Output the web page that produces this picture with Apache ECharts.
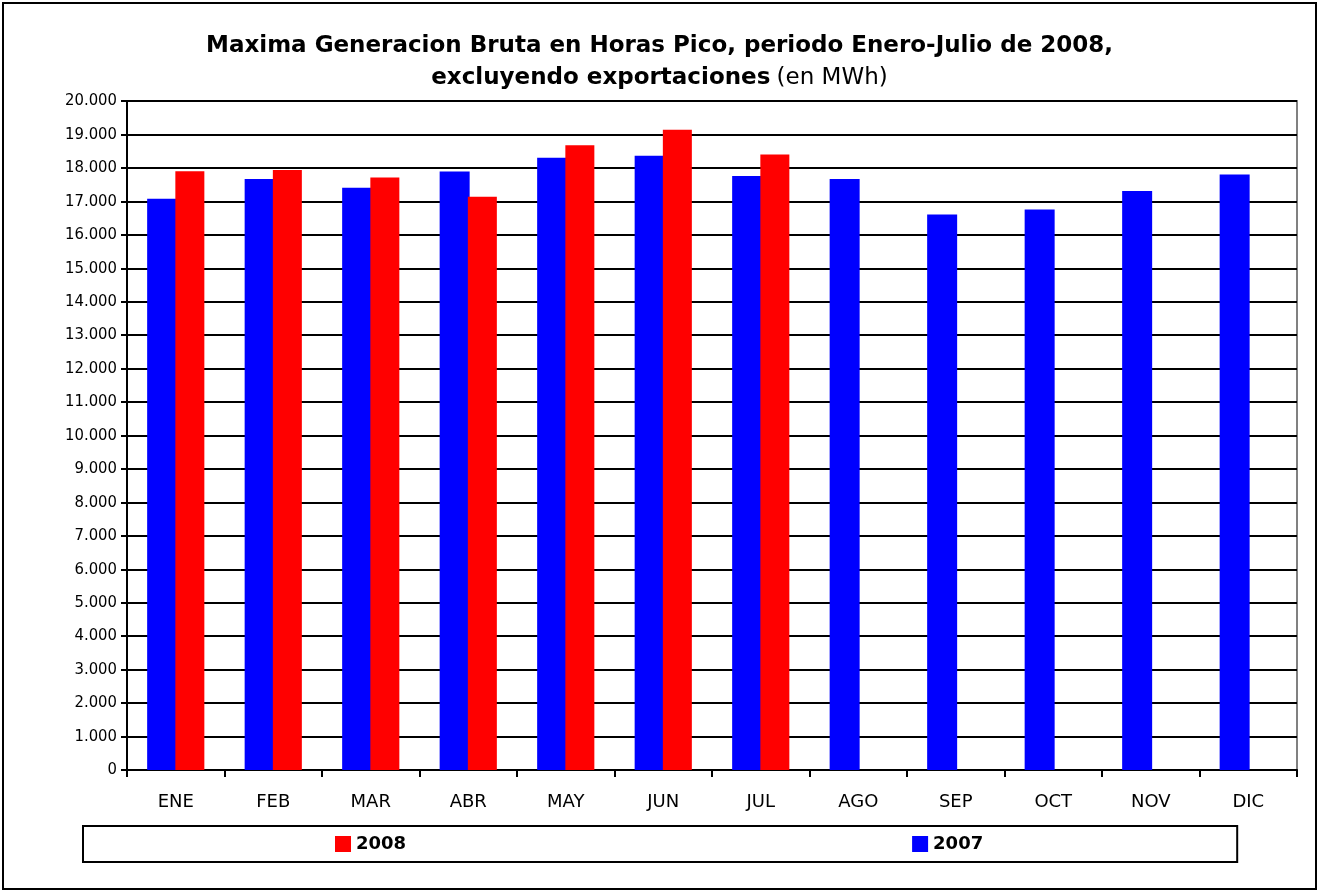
<!DOCTYPE html>
<html>
<head>
<meta charset="utf-8">
<script src="https://cdn.jsdelivr.net/npm/echarts@6/dist/echarts.min.js"></script>
<style>
  html, body { margin: 0; padding: 0; background: #fff; }
  #chart { width: 1319px; height: 892px; }
</style>
</head>
<body>
<div id="chart"></div>
<script>
// datos (MWh)
var meses = ['ENE', 'FEB', 'MAR', 'ABR', 'MAY', 'JUN', 'JUL', 'AGO', 'SEP', 'OCT', 'NOV', 'DIC'];
var gen2007 = [17080, 17670, 17410, 17890, 18300, 18360, 17760, 17670, 16610, 16760, 17310, 17800];
var gen2008 = [17900, 17940, 17710, 17140, 18680, 19140, 18400, null, null, null, null, null];

var fuente = '"DejaVu Sans", sans-serif';
var fuenteCond = '"DejaVu Sans Condensed", "DejaVu Sans", sans-serif';

var myChart = echarts.init(document.getElementById('chart'));
myChart.setOption({
  animation: false,
  textStyle: { fontFamily: fuente, color: '#000' },
  title: {
    text: '{b|Maxima Generacion Bruta en Horas Pico, periodo Enero-Julio de 2008,}\n{b|excluyendo exportaciones} {n|(en MWh)}',
    left: 'center',
    top: 25,
    textStyle: {
      rich: {
        b: { fontFamily: fuente, fontSize: 23, fontWeight: 'bold', color: '#000', lineHeight: 32 },
        n: { fontFamily: fuente, fontSize: 23, fontWeight: 'normal', color: '#000', lineHeight: 32 }
      }
    }
  },
  legend: {
    data: ['2008', '2007'],
    left: 83,
    top: 826,
    orient: 'horizontal',
    itemWidth: 16,
    itemHeight: 16,
    itemGap: 506,
    padding: [9, 254, 9, 252],
    borderColor: '#000',
    borderWidth: 2,
    borderRadius: 0,
    icon: 'rect',
    textStyle: { fontFamily: fuente, fontSize: 18, fontWeight: 'bold', color: '#000' }
  },
  grid: {
    left: 127,
    right: 22,
    top: 101,
    bottom: 122,
    show: true,
    borderColor: '#808080',
    borderWidth: 2,
    backgroundColor: '#fff'
  },
  xAxis: {
    type: 'category',
    data: meses,
    axisLine: { lineStyle: { color: '#000', width: 2 } },
    axisTick: { show: true, length: 7, lineStyle: { color: '#000', width: 2 } },
    axisLabel: { fontSize: 18, color: '#000', margin: 23, fontFamily: fuente }
  },
  yAxis: {
    type: 'value',
    min: 0,
    max: 20000,
    interval: 1000,
    axisLine: { show: true, lineStyle: { color: '#000', width: 2 } },
    axisTick: { show: true, length: 6, lineStyle: { color: '#000', width: 2 } },
    splitLine: { lineStyle: { color: '#000', width: 2 } },
    axisLabel: {
      fontSize: 16.5,
      color: '#000',
      margin: 10,
      fontFamily: fuenteCond,
      formatter: function (v) {
        return String(v).replace(/\B(?=(\d{3})+(?!\d))/g, '.');
      }
    }
  },
  series: [
    {
      name: '2007',
      type: 'bar',
      data: gen2007,
      barWidth: 30,
      barGap: '-6%',
      itemStyle: { color: '#0000FF' }
    },
    {
      name: '2008',
      type: 'bar',
      data: gen2008,
      barWidth: 29,
      itemStyle: { color: '#FF0000' }
    }
  ],
  graphic: [
    {
      type: 'rect',
      shape: { x: 3, y: 3, width: 1313, height: 886 },
      style: { fill: 'none', stroke: '#000', lineWidth: 2 },
      silent: true
    }
  ]
});
</script>
</body>
</html>
